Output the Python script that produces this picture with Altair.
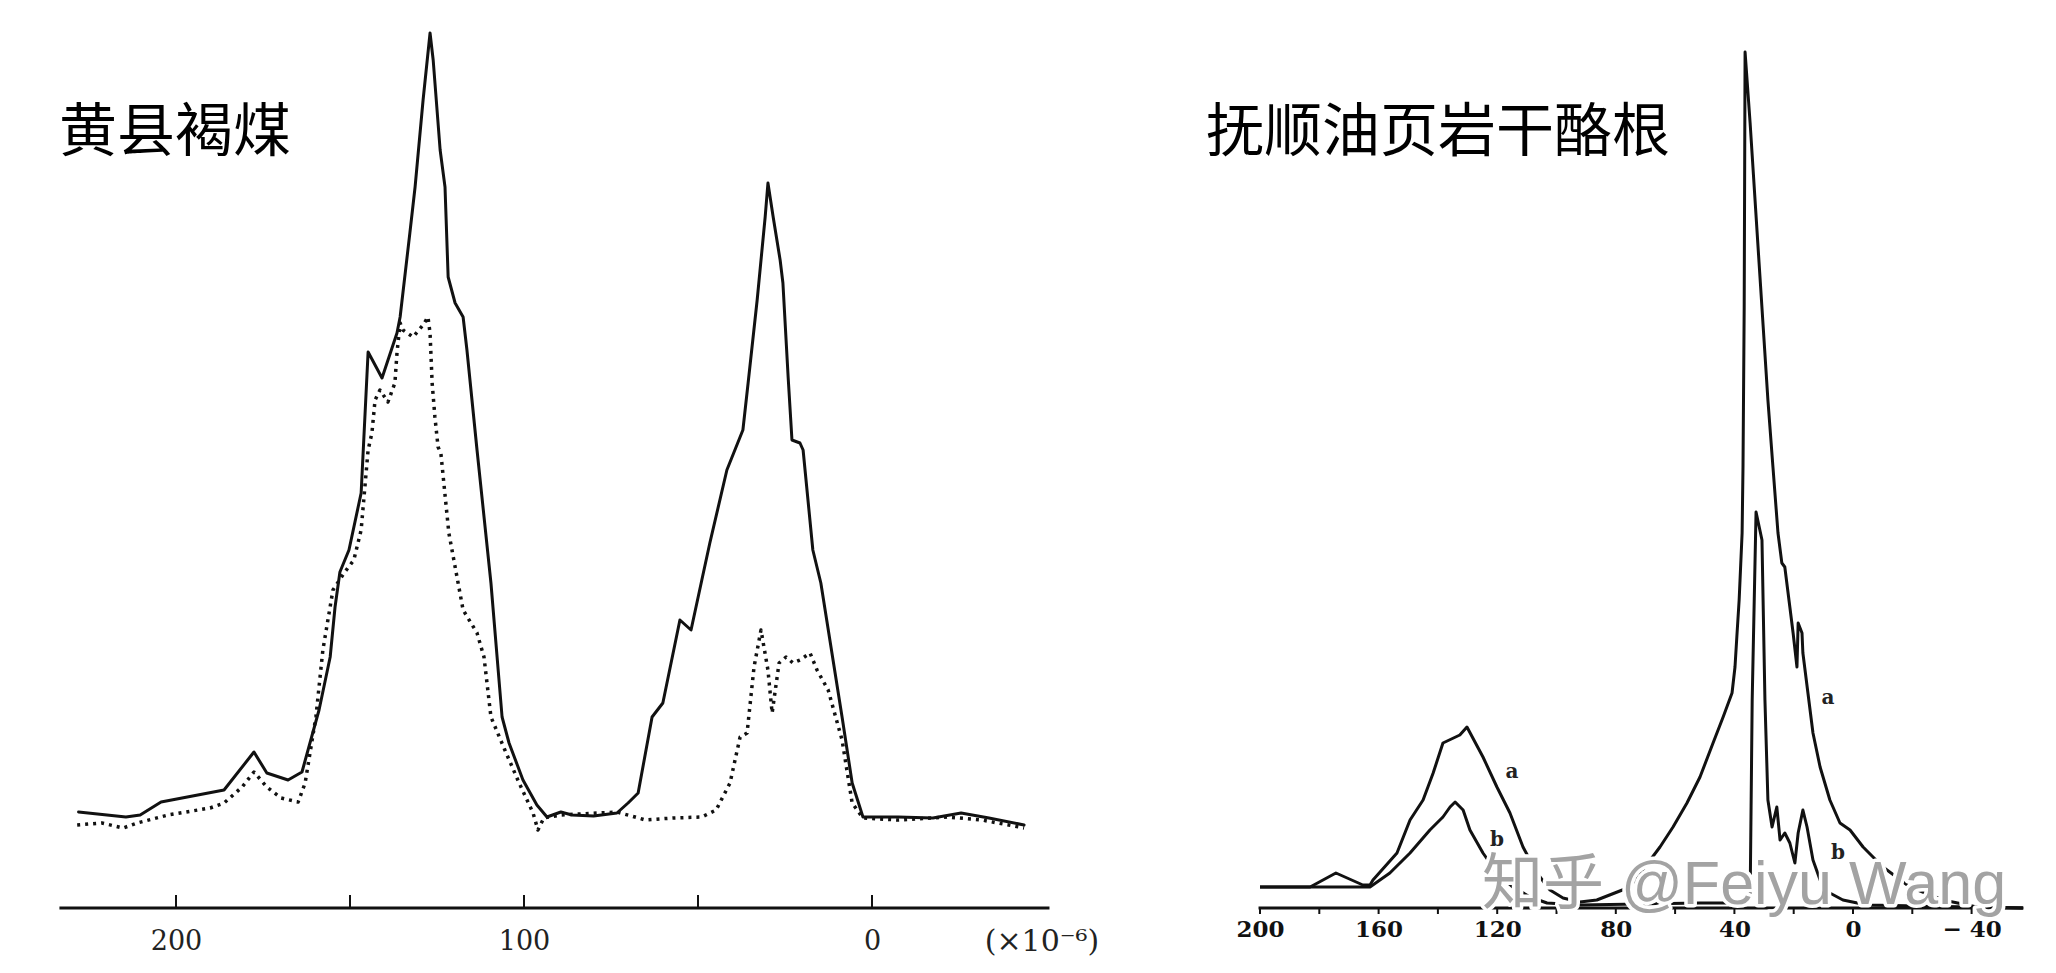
import altair as alt
import pandas as pd

# ---------------- data ----------------
# Left panel: 黄县褐煤 (chemical shift in ppm, relative intensity)
left_solid_ppm = [228.0, 214.4, 210.3, 204.3, 186.2, 177.6, 173.9, 167.8, 163.8, 158.9, 155.7, 154.3,
                  152.9, 150.3, 146.8, 144.8, 140.8, 136.5, 135.6, 132.8, 131.3, 129.0, 127.0, 126.1,
                  124.1, 122.7, 121.8, 119.8, 117.5, 116.4, 113.5, 109.5, 106.3, 104.3, 100.3, 96.3,
                  93.4, 89.4, 86.2, 80.0, 73.3, 70.1, 67.2, 63.2, 60.1, 55.2, 52.0, 48.9, 46.6, 41.7,
                  37.1, 35.6, 33.0, 30.7, 29.9, 28.4, 26.4, 25.6, 24.1, 23.0, 20.7, 19.8, 17.0, 14.7,
                  8.6, 5.7, 2.6, -7.5, -17.5, -25.6, -33.6, -43.7]
left_solid_int = [96, 91, 93, 106, 118, 156, 135, 128, 136, 198, 251, 301,
                  336, 358, 415, 556, 530, 575, 591, 675, 721, 808, 875, 848,
                  758, 721, 631, 605, 591, 558, 458, 325, 191, 165, 128, 103,
                  91, 96, 93, 92, 95, 105, 115, 191, 205, 288, 278, 328, 365, 438,
                  478, 525, 608, 691, 725, 691, 648, 625, 531, 468, 465, 458, 358, 325,
                  191, 125, 91, 91, 90, 95, 90, 83]

left_dot_ppm = [228.4, 221.3, 215.2, 211.2, 202.3, 190.2, 186.2, 181.0, 177.6, 173.9, 169.8, 164.9,
                162.9, 159.8, 157.8, 154.9, 151.7, 148.9, 146.8, 144.8, 143.7, 142.8, 141.4, 139.1,
                137.1, 136.5, 135.6, 134.8, 131.9, 129.0, 127.6, 127.0, 126.4, 125.6, 124.7, 123.9,
                121.6, 117.5, 113.5, 111.5, 109.5, 105.5, 101.4, 97.4, 96.0, 94.3, 89.4, 73.3, 68.1,
                65.2, 57.2, 48.9, 44.8, 40.8, 37.9, 35.9, 33.9, 31.9, 29.9, 28.7, 26.7, 24.7, 22.7,
                20.7, 17.8, 15.8, 12.6, 8.6, 5.7, 2.6, -7.5, -21.6, -31.6, -43.7]
left_dot_int = [83, 85, 80, 85, 93, 100, 105, 121, 136, 121, 110, 106,
                125, 191, 258, 318, 335, 348, 378, 458, 475, 508, 518, 506,
                525, 555, 585, 578, 571, 583, 591, 575, 525, 491, 461, 455,
                375, 298, 275, 251, 191, 158, 125, 95, 78, 90, 93, 96, 91,
                88, 90, 91, 98, 125, 171, 175, 241, 278, 238, 195, 245, 251, 245,
                248, 255, 238, 218, 168, 105, 90, 88, 91, 88, 80]

# Right panel: 抚顺油页岩干酪根, curves a and b
right_a_ppm = [200.0, 183.1, 174.4, 165.3, 162.9, 161.9, 153.8, 149.4, 145.0, 141.6, 138.3, 132.6,
               130.2, 124.8, 120.1, 115.7, 111.3, 106.6, 102.2, 97.8, 92.1, 86.4, 75.2, 65.1, 60.7,
               56.0, 51.6, 47.2, 43.8, 40.8, 39.8, 39.1, 38.4, 37.4, 37.1, 36.7, 36.4, 34.7, 31.7,
               28.7, 27.0, 25.3, 24.0, 23.0, 21.3, 20.2, 18.9, 18.5, 17.2, 16.9, 15.2, 13.5, 11.1,
               7.8, 4.4, 1.0, -3.4, -10.1, -19.2, -30.4, -41.8, -57.3]
right_a_int = [21, 21, 35, 23, 23, 28, 55, 88, 108, 135, 165, 173,
               181, 151, 121, 95, 61, 35, 18, 10, 6, 8, 21, 61, 81,
               105, 131, 165, 191, 215, 241, 275, 308, 375, 441, 600, 856, 785, 646,
               508, 441, 375, 345, 341, 301, 275, 241, 285, 275, 255, 215, 175, 141,
               108, 85, 78, 61, 41, 21, 8, 1, 0]

right_b_ppm = [200.0, 183.1, 162.9, 156.2, 149.4, 142.7, 138.3, 135.9, 134.2, 131.5, 129.2, 124.8,
               120.1, 114.7, 108.9, 103.2, 92.1, 51.6, 35.5, 34.7, 34.0, 32.7, 30.7, 29.7, 28.7,
               27.3, 25.7, 24.6, 23.0, 21.3, 19.6, 18.5, 16.9, 15.5, 13.5, 11.1, 7.8, 3.4, -4.7,
               -57.3]
right_b_int = [21, 21, 21, 35, 55, 78, 91, 101, 106, 98, 78, 55,
               35, 21, 11, 5, 3, 5, 5, 8, 208, 396, 368, 208, 108,
               81, 101, 68, 75, 65, 45, 75, 98, 81, 48, 28, 15, 8, 3,
               0]

# axes
left_tick_values = [200, 150, 100, 50, 0]
left_label_values = [200, 100, 0]
left_axis_span = [233.5, -51.0]
right_tick_values = [200, 180, 160, 140, 120, 100, 80, 60, 40, 20, 0, -20, -40]
right_label_values = [200, 160, 120, 80, 40, 0, -40]
right_axis_span = [200.5, -57.5]

# curve annotations
ann_text = ["a", "b", "a", "b"]
ann_ppm = [115.0, 120.1, 8.4, 5.1]
ann_int = [136, 68, 210, 55]

left_title = "黄县褐煤"
right_title = "抚顺油页岩干酪根"
unit_text = "(×10⁻⁶)"
watermark = "知乎  @Feiyu Wang"

# ---------------- chart ----------------
H = 900
W1 = 1152
W2 = 880
INK = "#111111"


def line_df(ppm, inten):
    return pd.DataFrame({"ppm": ppm, "I": inten, "idx": list(range(len(ppm)))})


y_scale = alt.Scale(domain=[0, 900], nice=False, zero=False)
Y = alt.Y("I:Q", scale=y_scale, axis=None)

# left panel ---------------------------------------------------------
lx_scale = alt.Scale(domain=[-82.76, 248.28], reverse=True, nice=False, zero=False)
left_axis = alt.Axis(values=left_label_values, domain=False, ticks=False, grid=False,
                     labelFont="DejaVu Serif", labelFontSize=27, labelColor="#222222",
                     labelPadding=20, title=None, labelFlush=False)
LX = alt.X("ppm:Q", scale=lx_scale, axis=left_axis)

l_solid = alt.Chart(line_df(left_solid_ppm, left_solid_int)).mark_line(
    color=INK, strokeWidth=3, strokeJoin="round", strokeCap="round"
).encode(x=LX, y=Y, order="idx:Q")

l_dot = alt.Chart(line_df(left_dot_ppm, left_dot_int)).mark_line(
    color=INK, strokeWidth=3.5, strokeDash=[3, 5], strokeJoin="round"
).encode(x=LX, y=Y, order="idx:Q")

l_axis_line = alt.Chart(pd.DataFrame({"ppm": [left_axis_span[0]], "end": [left_axis_span[1]]})).mark_rule(
    color=INK, strokeWidth=3
).encode(x=LX, x2="end:Q", y=alt.value(H))

l_ticks = alt.Chart(pd.DataFrame({"ppm": left_tick_values})).mark_rule(
    color=INK, strokeWidth=2
).encode(x=LX, y=alt.value(H), y2=alt.value(H - 13))

l_title = alt.Chart(pd.DataFrame({"t": [left_title]})).mark_text(
    align="left", baseline="middle", font="Noto Sans CJK SC", fontSize=58, color="#000000"
).encode(x=alt.value(51), y=alt.value(126), text="t:N")

l_unit = alt.Chart(pd.DataFrame({"t": [unit_text]})).mark_text(
    align="center", baseline="middle", font="DejaVu Serif", fontSize=30, color="#222222"
).encode(x=alt.value(1034), y=alt.value(934), text="t:N")

left = alt.layer(l_axis_line, l_ticks, l_dot, l_solid, l_title, l_unit).properties(width=W1, height=H)

# right panel --------------------------------------------------------
rx_scale = alt.Scale(domain=[-63.07, 233.73], reverse=True, nice=False, zero=False)
right_axis = alt.Axis(values=right_label_values, domain=False, ticks=False, grid=False,
                      labelFont="DejaVu Serif", labelFontSize=23, labelFontWeight="bold",
                      labelColor="#111111", labelPadding=10, title=None, labelFlush=False,
                      labelExpr="datum.value < 0 ? '\u2212 ' + abs(datum.value) : datum.label")
RX = alt.X("ppm:Q", scale=rx_scale, axis=right_axis)

r_a = alt.Chart(line_df(right_a_ppm, right_a_int)).mark_line(
    color=INK, strokeWidth=3, strokeJoin="round"
).encode(x=RX, y=Y, order="idx:Q")

r_b = alt.Chart(line_df(right_b_ppm, right_b_int)).mark_line(
    color=INK, strokeWidth=3, strokeJoin="round"
).encode(x=RX, y=Y, order="idx:Q")

r_axis_line = alt.Chart(pd.DataFrame({"ppm": [right_axis_span[0]], "end": [right_axis_span[1]]})).mark_rule(
    color=INK, strokeWidth=3
).encode(x=RX, x2="end:Q", y=alt.value(H))

r_ticks = alt.Chart(pd.DataFrame({"ppm": right_tick_values})).mark_rule(
    color=INK, strokeWidth=2
).encode(x=RX, y=alt.value(H), y2=alt.value(H + 6))

r_ann = alt.Chart(pd.DataFrame({"ppm": ann_ppm, "I": ann_int, "t": ann_text})).mark_text(
    font="DejaVu Serif", fontSize=20, fontWeight="bold", color="#222222"
).encode(x=RX, y=Y, text="t:N")

r_title = alt.Chart(pd.DataFrame({"t": [right_title]})).mark_text(
    align="left", baseline="middle", font="Noto Sans CJK SC", fontSize=58, color="#000000"
).encode(x=alt.value(46), y=alt.value(126), text="t:N")

wm_df = pd.DataFrame({"t": [watermark]})
r_wm_halo = alt.Chart(wm_df).mark_text(
    align="left", baseline="alphabetic", font="Liberation Sans, Noto Sans CJK SC", fontSize=61,
    color="#ffffff", stroke="#ffffff", strokeWidth=7, strokeJoin="round"
).encode(x=alt.value(322), y=alt.value(896), text="t:N")
r_wm = alt.Chart(wm_df).mark_text(
    align="left", baseline="alphabetic", font="Liberation Sans, Noto Sans CJK SC", fontSize=61,
    color="#a3a3a3"
).encode(x=alt.value(322), y=alt.value(896), text="t:N")

right = alt.layer(r_axis_line, r_ticks, r_b, r_a, r_wm_halo, r_wm, r_ann, r_title).properties(width=W2, height=H)

chart = alt.hconcat(left, right, spacing=0).properties(
    padding=0, background="#ffffff"
).configure_view(stroke=None)

chart.save("out.html", embed_options={"renderer": "svg", "actions": False})
